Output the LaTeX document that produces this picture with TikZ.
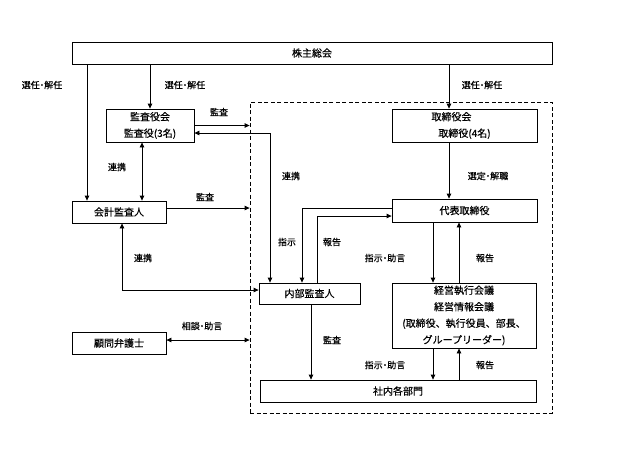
\documentclass[tikz,border=0pt]{standalone}
\usepackage{fontspec}
\setmainfont{Noto Sans CJK JP}[FakeBold=0.4]
\usetikzlibrary{arrows.meta}
\begin{document}
\begin{tikzpicture}[x=1pt,y=-1pt,
  box/.style={draw, line width=0.8pt, inner sep=0pt, font=\fontsize{10}{16.5}\selectfont, align=center},
  lbl/.style={font=\fontsize{9}{11}\selectfont, inner sep=0pt},
  arr/.style={line width=0.8pt, -{Triangle[length=5pt,width=4.5pt]}},
  darr/.style={line width=0.8pt, {Triangle[length=5pt,width=4.5pt]}-{Triangle[length=5pt,width=4.5pt]}},
  ]
\fill[white] (0,0) rectangle (621,459);
\useasboundingbox (0,0) rectangle (621,459);

\node[draw, line width=0.8pt, dash pattern=on 4pt off 2.5pt, inner sep=0pt, minimum width=302pt, minimum height=311pt] (group) at (401,257.5) {};

\node[box, minimum width=480pt, minimum height=22pt] (soukai) at (312,53) {株主総会};
\node[box, minimum width=88pt, minimum height=33pt] (kansa) at (150,125.5) {監査役会\\監査役(3名)};
\node[box, minimum width=145pt, minimum height=33pt] (torikai) at (464.5,125.5) {取締役会\hspace*{26pt}\\取締役(4名)};
\node[box, minimum width=145pt, minimum height=23pt] (daihyo) at (464.5,210.5) {代表取締役};
\node[box, minimum width=94pt, minimum height=22pt] (kaikei) at (119,212) {会計監査人};
\node[box, minimum width=101pt, minimum height=21pt] (naibu) at (309.5,293.5) {内部監査人};
\node[box, minimum width=94pt, minimum height=22pt] (komon) at (119,343) {顧問弁護士};
\node[box, minimum width=144pt, minimum height=65pt] (keiei) at (464,315.5) {経営執行会議\\経営情報会議\\(取締役、執行役員、部長、\\グループリーダー)};
\node[box, minimum width=276pt, minimum height=22pt] (shanai) at (398,391) {社内各部門};

% connectors
\draw[arr] ([xshift=-32pt]kaikei.north |- soukai.south) -- ([xshift=-32pt]kaikei.north);
\draw[arr] (kansa.north |- soukai.south) -- (kansa.north);
\draw[arr] ([xshift=-15.5pt]torikai.north |- soukai.south) -- ([xshift=-15.5pt]torikai.north);
\draw[arr] ([xshift=-15.5pt]torikai.south) -- ([xshift=-15.5pt]daihyo.north);
\draw[darr] ([xshift=-8pt]kansa.south) -- ([xshift=-8pt]kansa.south |- kaikei.north);
\draw[arr] (kansa.east) -- (kansa.east -| group.west);
\draw[arr] ([yshift=4pt]kaikei.east) -- ([yshift=4pt]kaikei.east -| group.west);
\draw[darr] ([yshift=-7.5pt]kansa.east) -| ([xshift=-39.5pt]naibu.north);
\draw[arr] ([yshift=2.5pt]daihyo.west) -| ([xshift=-7.5pt]naibu.north);
\draw[arr] ([xshift=7.5pt]naibu.north) |- ([yshift=-5.5pt]daihyo.west);
\draw[darr] ([xshift=3pt]kaikei.south) |- ([yshift=3.5pt]naibu.west);
\draw[darr] ([yshift=3pt]komon.east) -- ([yshift=3pt]komon.east -| group.west);
\draw[arr] ([xshift=1.5pt]naibu.south) -- ([xshift=1.5pt]naibu.south |- shanai.north);
\draw[arr] ([xshift=-31.5pt]daihyo.south) -- ([xshift=-31.5pt]daihyo.south |- keiei.north);
\draw[arr] ([xshift=-5.5pt]daihyo.south |- keiei.north) -- ([xshift=-5.5pt]daihyo.south);
\draw[arr] ([xshift=-31pt]keiei.south) -- ([xshift=-31pt]keiei.south |- shanai.north);
\draw[arr] ([xshift=-5pt]keiei.south |- shanai.north) -- ([xshift=-5pt]keiei.south);

% labels
\node[lbl] (l1) at (42,85) {選任･解任};
\node[lbl] (l2) at (185,85) {選任･解任};
\node[lbl] (l3) at (482,85) {選任･解任};
\node[lbl] (l4) at (219,112) {監査};
\node[lbl] (l5) at (205,197) {監査};
\node[lbl] (l6) at (117,167) {連携};
\node[lbl] (l7) at (291,176) {連携};
\node[lbl] (l8) at (488,176) {選定･解職};
\node[lbl] (l9) at (287,242) {指示};
\node[lbl] (l10) at (332,242) {報告};
\node[lbl] (l11) at (385,258) {指示･助言};
\node[lbl] (l12) at (485,258) {報告};
\node[lbl] (l13) at (143,258) {連携};
\node[lbl] (l14) at (202,326) {相談･助言};
\node[lbl] (l15) at (332,340) {監査};
\node[lbl] (l16) at (385,365) {指示･助言};
\node[lbl] (l17) at (485,365) {報告};
\end{tikzpicture}
\end{document}
